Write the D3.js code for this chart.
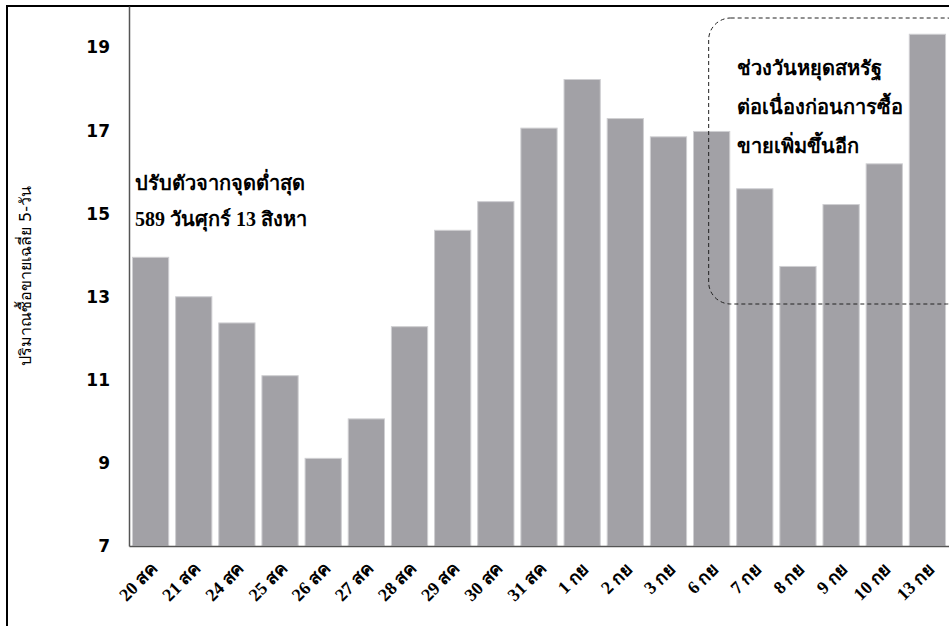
<!DOCTYPE html>
<html>
<head>
<meta charset="utf-8">
<script src="https://cdn.jsdelivr.net/npm/d3@7"></script>
<style>
  body { margin: 0; background: #fff; }
  .tick-y { font-family: "DejaVu Sans", Verdana, sans-serif; font-weight: bold; font-size: 17px; }
  .tick-x { font-family: "Liberation Serif", serif; font-weight: bold; font-size: 18px; }
  .note { font-family: "Liberation Serif", serif; font-weight: bold; font-size: 20px; }
  .ylab { font-family: "DejaVu Sans", sans-serif; font-size: 16px; }
</style>
</head>
<body>
<script>
// 5-day average volume, Aug 20 - Sep 13
var days = ["20 สค","21 สค","24 สค","25 สค","26 สค","27 สค","28 สค","29 สค","30 สค","31 สค",
            "1 กย","2 กย","3 กย","6 กย","7 กย","8 กย","9 กย","10 กย","13 กย"];
var volume = [13.95, 13.0, 12.37, 11.1, 9.11, 10.06, 12.28, 14.6, 15.29, 17.06,
              18.23, 17.29, 16.85, 16.98, 15.6, 13.73, 15.22, 16.2, 19.32];
var yTicks = [7, 9, 11, 13, 15, 17, 19];
var noteLeft = ["ปรับตัวจากจุดต่ำสุด", "589 วันศุกร์ 13 สิงหา"];
var noteRight = ["ช่วงวันหยุดสหรัฐ", "ต่อเนื่องก่อนการซื้อ", "ขายเพิ่มขึ้นอีก"];

(function() {
  var W = 949, H = 626;
  var pLeft = 129, pRight = 949, pTop = 6, pBottom = 546;

  var svg = d3.select("body").append("svg")
      .attr("width", W)
      .attr("height", H);

  // frame
  svg.append("rect")
      .attr("x", 7).attr("y", 6)
      .attr("width", 960).attr("height", 640)
      .attr("fill", "none")
      .attr("stroke", "#000")
      .attr("stroke-width", 2);

  var x = d3.scaleBand()
      .domain(days)
      .range([pLeft, pRight])
      .paddingInner(0.16)
      .paddingOuter(0.08);

  var y = d3.scaleLinear()
      .domain([7, 20])
      .range([pBottom, pTop]);

  // bars
  svg.selectAll("rect.bar")
      .data(volume)
    .enter().append("rect")
      .attr("class", "bar")
      .attr("x", function(d, i) { return x(days[i]); })
      .attr("y", function(d) { return y(d); })
      .attr("width", x.bandwidth())
      .attr("height", function(d) { return y(7) - y(d); })
      .attr("fill", "#a2a1a6")
      .attr("stroke", "#cfcfd2")
      .attr("stroke-width", 1);

  // y axis
  var yAxis = svg.append("g")
      .attr("transform", "translate(" + pLeft + ",0)")
      .call(d3.axisLeft(y).tickValues(yTicks).tickSize(0).tickPadding(19));
  yAxis.select(".domain").attr("stroke", "#555").attr("stroke-width", 1.5);
  yAxis.selectAll("text").attr("class", "tick-y").attr("fill", "#000");

  // x axis
  var xAxis = svg.append("g")
      .attr("transform", "translate(0," + pBottom + ")")
      .call(d3.axisBottom(x).tickSize(0).tickFormat(""));
  xAxis.select(".domain").attr("stroke", "#555").attr("stroke-width", 1.5);

  svg.selectAll("text.tick-x")
      .data(days)
    .enter().append("text")
      .attr("class", "tick-x")
      .attr("text-anchor", "end")
      .attr("transform", function(d) {
        return "translate(" + (x(d) + x.bandwidth() / 2 + 8) + "," + (pBottom + 24) + ") rotate(-45)";
      })
      .text(function(d) { return d; });

  // y label
  svg.append("text")
      .attr("class", "ylab")
      .attr("text-anchor", "middle")
      .attr("transform", "translate(31," + ((pTop + pBottom) / 2) + ") rotate(-90)")
      .text("ปริมาณซื้อขายเฉลี่ย 5-วัน");

  // left note
  svg.selectAll("text.noteL")
      .data(noteLeft)
    .enter().append("text")
      .attr("class", "note")
      .attr("x", 135)
      .attr("y", function(d, i) { return 190 + i * 36; })
      .text(function(d) { return d; });

  // dashed box around holiday period
  svg.append("rect")
      .attr("x", x("7 กย") - 28)
      .attr("y", 18)
      .attr("width", 260)
      .attr("height", 286)
      .attr("rx", 22)
      .attr("fill", "none")
      .attr("stroke", "#222")
      .attr("stroke-width", 1)
      .attr("stroke-dasharray", "4,3");

  svg.selectAll("text.noteR")
      .data(noteRight)
    .enter().append("text")
      .attr("class", "note")
      .attr("x", 737)
      .attr("y", function(d, i) { return 75 + i * 39; })
      .text(function(d) { return d; });
})();
</script>
</body>
</html>
